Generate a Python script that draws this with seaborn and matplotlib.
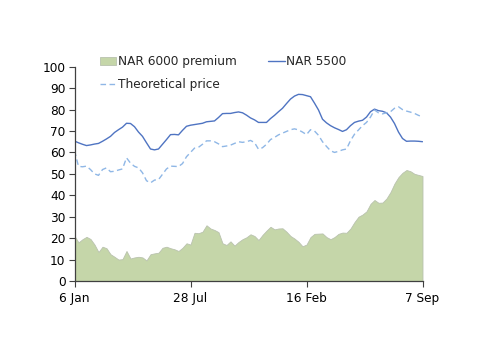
import numpy as np
import pandas as pd
import matplotlib
matplotlib.use("Agg")
import matplotlib.pyplot as plt
import seaborn as sns

# ---- data (weekly, 6 Jan 2014 .. 7 Sep 2015) ----
dates = pd.date_range("2014-01-06", periods=88, freq="7D")

nar5500 = [65.3, 64.5, 63.8, 63.2, 63.5, 63.9, 64.2, 65.2, 66.3, 67.5,
           69.3, 70.6, 71.8, 73.6, 73.5, 72.0, 69.5, 67.5, 64.5, 61.6,
           61.2, 61.6, 63.8, 66.0, 68.3, 68.4, 68.2, 70.3, 72.2, 72.7,
           73.0, 73.3, 73.6, 74.3, 74.5, 74.7, 76.3, 78.1, 78.2, 78.2,
           78.6, 78.9, 78.5, 77.4, 76.1, 75.2, 74.0, 74.0, 74.0, 75.8,
           77.3, 79.0, 80.6, 82.8, 84.9, 86.3, 87.1, 87.0, 86.5, 86.0,
           83.0, 79.8, 75.5, 73.8, 72.5, 71.5, 70.7, 69.8, 70.6, 72.5,
           74.0, 74.6, 75.0, 76.5, 79.0, 80.2, 79.5, 79.2, 78.5, 76.5,
           73.5, 69.5, 66.5, 65.2, 65.3, 65.3, 65.2, 65.0]

theoretical = [60.8, 53.5, 53.3, 53.6, 52.0, 50.0, 49.3, 52.0, 52.8, 51.0,
               51.2, 51.8, 52.3, 57.5, 55.0, 53.5, 52.8, 50.5, 46.8, 45.8,
               47.1, 47.3, 49.8, 52.3, 53.6, 53.5, 53.4, 54.8, 58.0, 60.0,
               62.0, 62.4, 63.8, 65.4, 65.4, 65.0, 64.0, 62.7, 63.0, 63.4,
               64.2, 65.0, 64.7, 65.0, 65.6, 64.6, 61.5, 62.2, 63.8, 66.0,
               67.0, 68.2, 69.0, 69.8, 70.6, 71.0, 70.5, 69.5, 68.3, 70.6,
               70.0, 68.0, 65.0, 62.8, 60.8, 60.0, 60.5, 61.2, 61.6, 65.5,
               68.5, 70.5, 72.5, 74.0, 76.5, 79.8, 78.5, 78.0, 78.5, 79.0,
               80.6, 81.3, 80.0, 79.3, 78.8, 78.2, 77.3, 76.6]

premium6000 = [21.0, 18.0, 19.5, 20.6, 19.6, 17.0, 13.5, 16.0, 15.3, 12.5,
               11.3, 10.0, 10.2, 14.0, 10.5, 11.0, 11.3, 11.0, 9.6, 12.5,
               12.9, 13.2, 15.5, 16.0, 15.3, 14.8, 14.0, 15.5, 17.6, 17.0,
               22.5, 22.3, 23.0, 26.0, 24.5, 23.8, 22.8, 17.6, 16.8, 18.5,
               16.5, 18.2, 19.5, 20.4, 21.8, 21.0, 19.1, 21.5, 23.5, 25.3,
               24.1, 24.5, 24.6, 23.0, 21.0, 19.8, 18.3, 16.2, 17.0, 20.5,
               22.0, 22.1, 22.2, 20.5, 19.5, 20.5, 22.0, 22.6, 22.5, 24.5,
               27.5, 30.0, 31.0, 32.5, 36.0, 37.8, 36.5, 36.6, 38.5, 41.5,
               45.5, 48.5, 50.5, 51.8, 51.2, 50.0, 49.5, 49.0]

tick_dates = ["2014-01-06", "2014-07-28", "2015-02-16", "2015-09-07"]
tick_labels = ["6 Jan", "28 Jul", "16 Feb", "7 Sep"]

df = pd.DataFrame({"date": dates, "NAR 5500": nar5500,
                   "Theoretical price": theoretical,
                   "NAR 6000 premium": premium6000})

# ---- style ----
sns.set_theme(style="white")
plt.rcParams["font.family"] = ["DejaVu Sans"]
FS = 8.7

fig = plt.figure(figsize=(5.0, 3.53), dpi=100)
ax = fig.add_axes([0.149, 0.204, 0.696, 0.607])

green = "#c5d6a9"
blue = "#4f74c2"
light = "#8fb7e6"

ax.fill_between(df["date"], 0, df["NAR 6000 premium"], facecolor=green,
                edgecolor="#b9c2ae", linewidth=0.6, label="NAR 6000 premium")
sns.lineplot(data=df, x="date", y="NAR 5500", ax=ax, color=blue,
             linewidth=1.0, label="NAR 5500")
sns.lineplot(data=df, x="date", y="Theoretical price", ax=ax, color=light,
             linewidth=1.0, linestyle=(0, (4, 2.5)), label="Theoretical price")

ax.set_xlim(dates[0], dates[-1])
ax.set_ylim(0, 100)
ax.set_yticks(np.arange(0, 101, 10))
ax.set_xticks(pd.to_datetime(tick_dates))
ax.set_xticklabels(tick_labels)
ax.set_xlabel("")
ax.set_ylabel("")

for s in ["top", "right"]:
    ax.spines[s].set_visible(False)
for s in ["left", "bottom"]:
    ax.spines[s].set_color("#404040")
    ax.spines[s].set_linewidth(0.9)

ax.tick_params(axis="both", which="major", direction="out", length=4,
               width=0.8, color="#404040", labelsize=FS, labelcolor="black",
               pad=2.5, left=True, bottom=True)
ax.tick_params(axis="x", pad=4)

handles, labels = ax.get_legend_handles_labels()
if ax.get_legend():
    ax.get_legend().remove()
order = ["NAR 6000 premium", "Theoretical price", "NAR 5500"]
hmap = dict(zip(labels, handles))
fig.legend([hmap[k] for k in order], order, loc="upper left",
           bbox_to_anchor=(0.2, 0.843), ncol=2, frameon=False,
           fontsize=FS, handlelength=1.35, handletextpad=0.15,
           columnspacing=2.6, labelspacing=0.78, borderpad=0,
           borderaxespad=0)

fig.savefig("out.png", dpi=100)
